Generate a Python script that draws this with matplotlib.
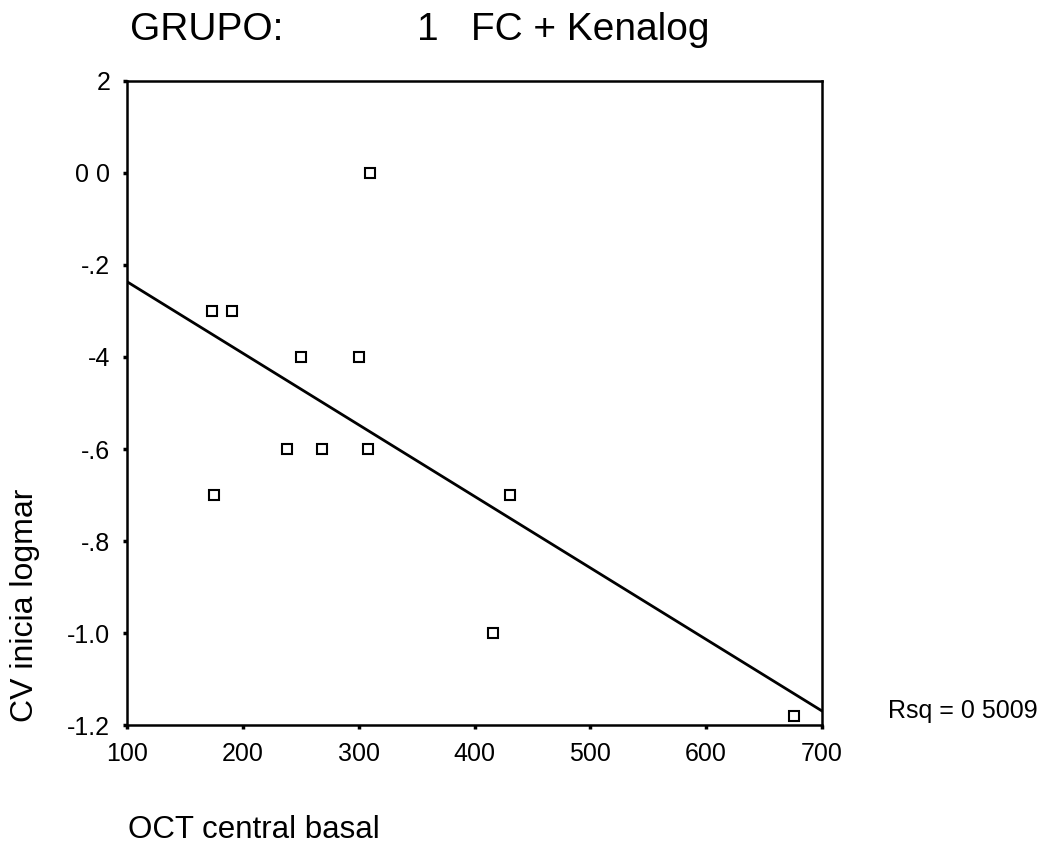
import numpy as np
import matplotlib
matplotlib.use("Agg")
import matplotlib.pyplot as plt

plt.rcParams['font.family'] = ['Liberation Sans', 'DejaVu Sans']

# OCT central basal vs CV inicial logmar
oct_basal = [173, 191, 310, 250, 300, 238, 268, 308, 175, 431, 416, 676]
cv_logmar = [-0.3, -0.3, 0.0, -0.4, -0.4, -0.6, -0.6, -0.6, -0.7, -0.7, -1.0, -1.18]

xticks = [100, 200, 300, 400, 500, 600, 700]
yticks = [0.2, 0.0, -0.2, -0.4, -0.6, -0.8, -1.0, -1.2]
ytick_labels = ['2', '0 0', '-.2', '-4', '-.6', '-.8', '-1.0', '-1.2']

fig = plt.figure(figsize=(10.49, 8.47), dpi=100)
ax = fig.add_axes([0.1211, 0.1440, 0.6625, 0.7604])

ax.plot(oct_basal, cv_logmar, linestyle='none', marker='s', markersize=7,
        markerfacecolor='white', markeredgecolor='black', markeredgewidth=1.5,
        clip_on=False, zorder=3)

# linear fit line
b, a = np.polyfit(oct_basal, cv_logmar, 1)
xl = np.array([100, 700])
ax.plot(xl, a + b * xl, color='black', linewidth=2.0, zorder=2)

ax.set_xlim(100, 700)
ax.set_ylim(-1.2, 0.2)
ax.set_xticks(xticks)
ax.set_yticks(yticks)
ax.set_yticklabels(ytick_labels)
ax.tick_params(axis='both', direction='out', length=3, width=2.5,
               labelsize=18, pad=9, color='black')

for s in ax.spines.values():
    s.set_linewidth(1.8)
    s.set_color('black')

fig.text(130 / 1049, 1 - 40 / 847, 'GRUPO:', fontsize=28, ha='left', va='baseline')
fig.text(417 / 1049, 1 - 40 / 847, '1   FC + Kenalog', fontsize=28, ha='left', va='baseline')
fig.text(128 / 1049, 1 - 838 / 847, 'OCT central basal', fontsize=22.5, ha='left', va='baseline')
fig.text(25 / 1049, 1 - 722 / 847, 'CV inicia logmar', fontsize=23, rotation=90,
         ha='center', va='bottom')
fig.text(888 / 1049, 1 - 718 / 847, 'Rsq = 0 5009', fontsize=18, ha='left', va='baseline')

fig.savefig('out.png', dpi=100, facecolor='white')
